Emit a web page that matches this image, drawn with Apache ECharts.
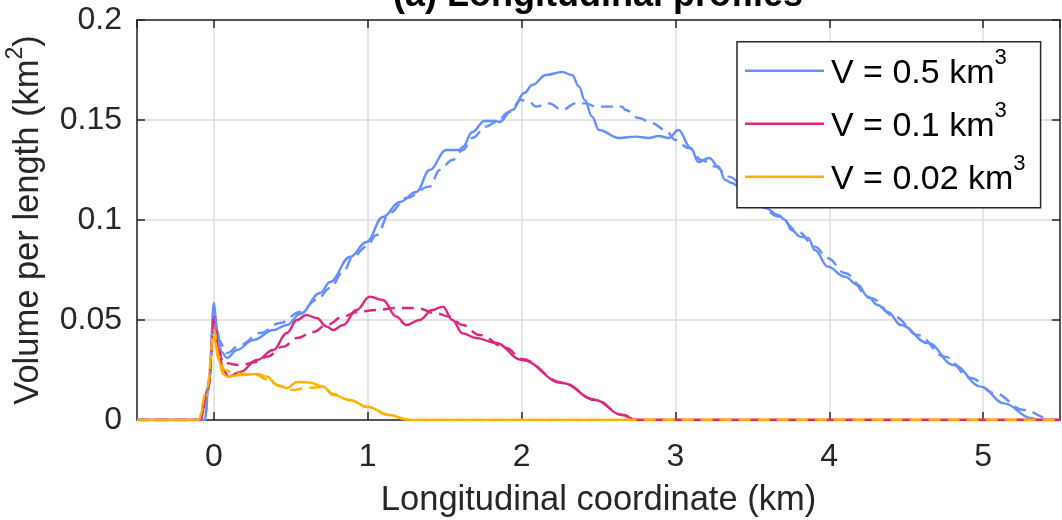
<!DOCTYPE html>
<html>
<head>
<meta charset="utf-8">
<script src="https://cdn.jsdelivr.net/npm/echarts@6/dist/echarts.min.js"></script>
<style>html,body{margin:0;padding:0;background:#fff}#c{width:1062px;height:520px}</style>
</head>
<body>
<div id="c"></div>
<script>
// ---- data (x in km, y in km^2) ----
const blueSolid = [[-0.5,0],[-0.06,0],[-0.03,0.02],[0,0.0585],[0.02,0.045],[0.05,0.034],[0.085,0.031],[0.15,0.035],[0.256,0.040],[0.387,0.045],[0.475,0.0475],[0.56,0.053],[0.69,0.0635],[0.755,0.069],[0.884,0.0815],[0.992,0.089],[1.098,0.1015],[1.208,0.109],[1.316,0.114],[1.402,0.125],[1.51,0.135],[1.596,0.135],[1.617,0.1365],[1.68,0.144],[1.758,0.1495],[1.834,0.1495],[1.855,0.149],[1.94,0.155],[2.017,0.1635],[2.07,0.1675],[2.158,0.1725],[2.263,0.174],[2.328,0.1725],[2.374,0.1667],[2.41,0.16],[2.458,0.1517],[2.503,0.145],[2.633,0.141],[2.741,0.1417],[2.827,0.141],[2.892,0.142],[2.957,0.141],[3.02,0.145],[3.1,0.136],[3.15,0.129],[3.22,0.131],[3.28,0.1267],[3.324,0.12],[3.366,0.1185],[3.45,0.114],[3.583,0.106],[3.669,0.1025],[3.713,0.1],[3.755,0.095],[3.81,0.0917],[3.863,0.091],[3.907,0.085],[3.99,0.0767],[4.1,0.0717],[4.187,0.0675],[4.25,0.0617],[4.315,0.0575],[4.38,0.054],[4.466,0.0475],[4.64,0.0385],[4.81,0.0275],[4.984,0.0167],[5.137,0.0083],[5.31,0.001],[5.35,0],[5.5,0]];
const blueDashed = [[-0.5,0],[-0.06,0],[-0.03,0.02],[0,0.056],[0.03,0.04],[0.085,0.0335],[0.17,0.0375],[0.30,0.0435],[0.43,0.0485],[0.56,0.054],[0.668,0.06],[0.755,0.066],[0.84,0.074],[0.905,0.0817],[0.992,0.0867],[1.057,0.0925],[1.143,0.1035],[1.25,0.111],[1.402,0.1167],[1.467,0.125],[1.55,0.13],[1.617,0.135],[1.68,0.141],[1.769,0.1467],[1.834,0.149],[1.92,0.154],[1.996,0.16],[2.05,0.159],[2.093,0.1567],[2.18,0.1583],[2.263,0.155],[2.352,0.1583],[2.417,0.1583],[2.482,0.1567],[2.588,0.1567],[2.652,0.1567],[2.676,0.155],[2.762,0.151],[2.847,0.1485],[2.935,0.145],[3.0,0.14],[3.086,0.136],[3.17,0.13],[3.26,0.1267],[3.345,0.1217],[3.5,0.112],[3.669,0.1017],[3.8,0.094],[3.907,0.0867],[3.99,0.081],[4.1,0.0735],[4.27,0.061],[4.425,0.0517],[4.576,0.0425],[4.75,0.0317],[4.92,0.021],[5.07,0.0135],[5.267,0.005],[5.42,0.001],[5.45,0],[5.5,0]];
const redSolid = [[-0.5,0],[-0.09,0],[-0.04,0.015],[0.003,0.0517],[0.03,0.035],[0.06,0.025],[0.096,0.0217],[0.17,0.024],[0.28,0.03],[0.386,0.035],[0.474,0.0435],[0.54,0.05],[0.60,0.0525],[0.668,0.051],[0.733,0.0467],[0.775,0.045],[0.84,0.0475],[0.927,0.055],[1.013,0.0617],[1.098,0.06],[1.186,0.0517],[1.25,0.0475],[1.337,0.05],[1.42,0.055],[1.488,0.0567],[1.55,0.05],[1.617,0.0433],[1.704,0.041],[1.834,0.0385],[2.0,0.03],[2.264,0.0185],[2.48,0.01],[2.65,0.0025],[2.75,0],[5.5,0]];
const redDashed = [[-0.5,0],[-0.09,0],[-0.04,0.015],[0.003,0.049],[0.03,0.035],[0.062,0.0285],[0.17,0.0275],[0.28,0.029],[0.345,0.0317],[0.45,0.0367],[0.54,0.041],[0.645,0.044],[0.733,0.0475],[0.84,0.0517],[0.927,0.054],[1.057,0.055],[1.186,0.056],[1.316,0.056],[1.446,0.0533],[1.53,0.0517],[1.617,0.0475],[1.726,0.0425],[1.9,0.036],[2.0,0.0305],[2.264,0.0187],[2.48,0.0102],[2.65,0.0027],[2.76,0],[5.5,0]];
const yellowSolid = [[-0.5,0],[-0.1,0],[-0.05,0.012],[0.003,0.0417],[0.03,0.03],[0.06,0.023],[0.085,0.0217],[0.17,0.0225],[0.28,0.023],[0.345,0.0217],[0.41,0.0175],[0.474,0.016],[0.54,0.019],[0.625,0.0187],[0.71,0.0167],[0.775,0.0125],[0.884,0.01],[0.992,0.0067],[1.143,0.0025],[1.25,0.0003],[1.28,0],[5.5,0]];
const yellowDashed = [[-0.5,0],[-0.1,0],[-0.05,0.014],[0.003,0.045],[0.03,0.032],[0.07,0.025],[0.126,0.0235],[0.2,0.023],[0.28,0.0225],[0.35,0.02],[0.43,0.017],[0.515,0.015],[0.6,0.016],[0.71,0.0165],[0.775,0.013],[0.884,0.0098],[0.992,0.0066],[1.143,0.0024],[1.25,0.0003],[1.28,0],[5.5,0]];

const seriesNames = ['V05', 'V01', 'V002'];
const legendLabels = ['V = 0.5 km', 'V = 0.1 km', 'V = 0.02 km'];
const colors = ['#648FFF', '#DC267F', '#FFB000'];
const titleText = '(a) Longitudinal profiles';
const xName = 'Longitudinal coordinate (km)';

const FONT = "'Liberation Sans', Arial, Helvetica, sans-serif";
const INK = '#262626';

function mk(name, data, color, dashed) {
  return {
    type: 'line', name: name, data: data, symbol: 'none', showSymbol: false, smooth: 0.4, smoothMonotone: 'x',
    lineStyle: { color: color, width: 2.4, type: dashed ? [12, 7] : 'solid' },
    itemStyle: { color: color }, z: dashed ? 3 : 2, silent: true
  };
}

const chart = echarts.init(document.getElementById('c'), null, { renderer: 'canvas' });
const axisLineStyle = { show: true, onZero: false, lineStyle: { color: INK, width: 1.5 } };
const tickStyle = { show: true, inside: true, length: 8, lineStyle: { color: INK, width: 1.5 } };

chart.setOption({
  animation: false,
  backgroundColor: '#fff',
  title: {
    text: titleText, left: 598, top: -22, textAlign: 'center', padding: 0,
    textStyle: { fontFamily: FONT, fontSize: 36, fontWeight: 'bold', color: '#000' }
  },
  grid: { left: 137, right: 2, top: 20, bottom: 100, containLabel: false, outerBoundsMode: 'none' },
  legend: {
    data: seriesNames, orient: 'vertical', left: 737, top: 41.7,
    padding: [5, 15, 11, 8], itemGap: 9, itemWidth: 79, itemHeight: 2.4, icon: 'rect',
    backgroundColor: '#fff', borderColor: INK, borderWidth: 1.5, borderRadius: 0,
    selectedMode: false, z: 10,
    formatter: function (n) { const i = seriesNames.indexOf(n); return '{t|' + legendLabels[i] + '}{s|3}'; },
    textStyle: {
      fontFamily: FONT, color: '#000',
      rich: {
        t: { fontFamily: FONT, fontSize: 34, lineHeight: 48, color: '#000', verticalAlign: 'middle', padding: [6, 0, 0, 2] },
        s: { fontFamily: FONT, fontSize: 22, lineHeight: 22, color: '#000', verticalAlign: 'top' }
      }
    }
  },
  xAxis: [{
    type: 'value', min: -0.5, max: 5.5, splitNumber: 6,
    position: 'bottom',
    axisLine: axisLineStyle, axisTick: tickStyle,
    axisLabel: { show: true, showMinLabel: false, showMaxLabel: false, margin: 21, fontFamily: FONT, fontSize: 32, color: INK },
    splitLine: { show: true, lineStyle: { color: '#dcdcdc', width: 1.5 } },
    name: xName, nameLocation: 'middle', nameGap: 63,
    nameTextStyle: { fontFamily: FONT, fontSize: 34.5, color: INK }
  }, {
    type: 'value', min: -0.5, max: 5.5, splitNumber: 6, position: 'top',
    axisLine: axisLineStyle, axisTick: tickStyle, axisLabel: { show: false }, splitLine: { show: false }
  }],
  yAxis: [{
    type: 'value', min: 0, max: 0.2, interval: 0.05, position: 'left',
    axisLine: axisLineStyle, axisTick: tickStyle,
    axisLabel: { margin: 15, fontFamily: FONT, fontSize: 32, color: INK },
    splitLine: { show: true, lineStyle: { color: '#dcdcdc', width: 1.5 } },
    name: '{a|Volume per length (km}{s|2}{a|)}', nameLocation: 'middle', nameGap: 85,
    nameTextStyle: {
      fontFamily: FONT, color: INK,
      rich: {
        a: { fontFamily: FONT, fontSize: 34.5, lineHeight: 48, color: INK, verticalAlign: 'middle' },
        s: { fontFamily: FONT, fontSize: 23, lineHeight: 22, color: INK, verticalAlign: 'top' }
      }
    }
  }, {
    type: 'value', min: 0, max: 0.2, interval: 0.05, position: 'right',
    axisLine: axisLineStyle, axisTick: tickStyle, axisLabel: { show: false }, splitLine: { show: false }
  }],
  series: [
    mk('V05', blueSolid, colors[0], false),
    mk('V05d', blueDashed, colors[0], true),
    mk('V01', redSolid, colors[1], false),
    mk('V01d', redDashed, colors[1], true),
    mk('V002', yellowSolid, colors[2], false),
    mk('V002d', yellowDashed, colors[2], true)
  ]
});
</script>
</body>
</html>
